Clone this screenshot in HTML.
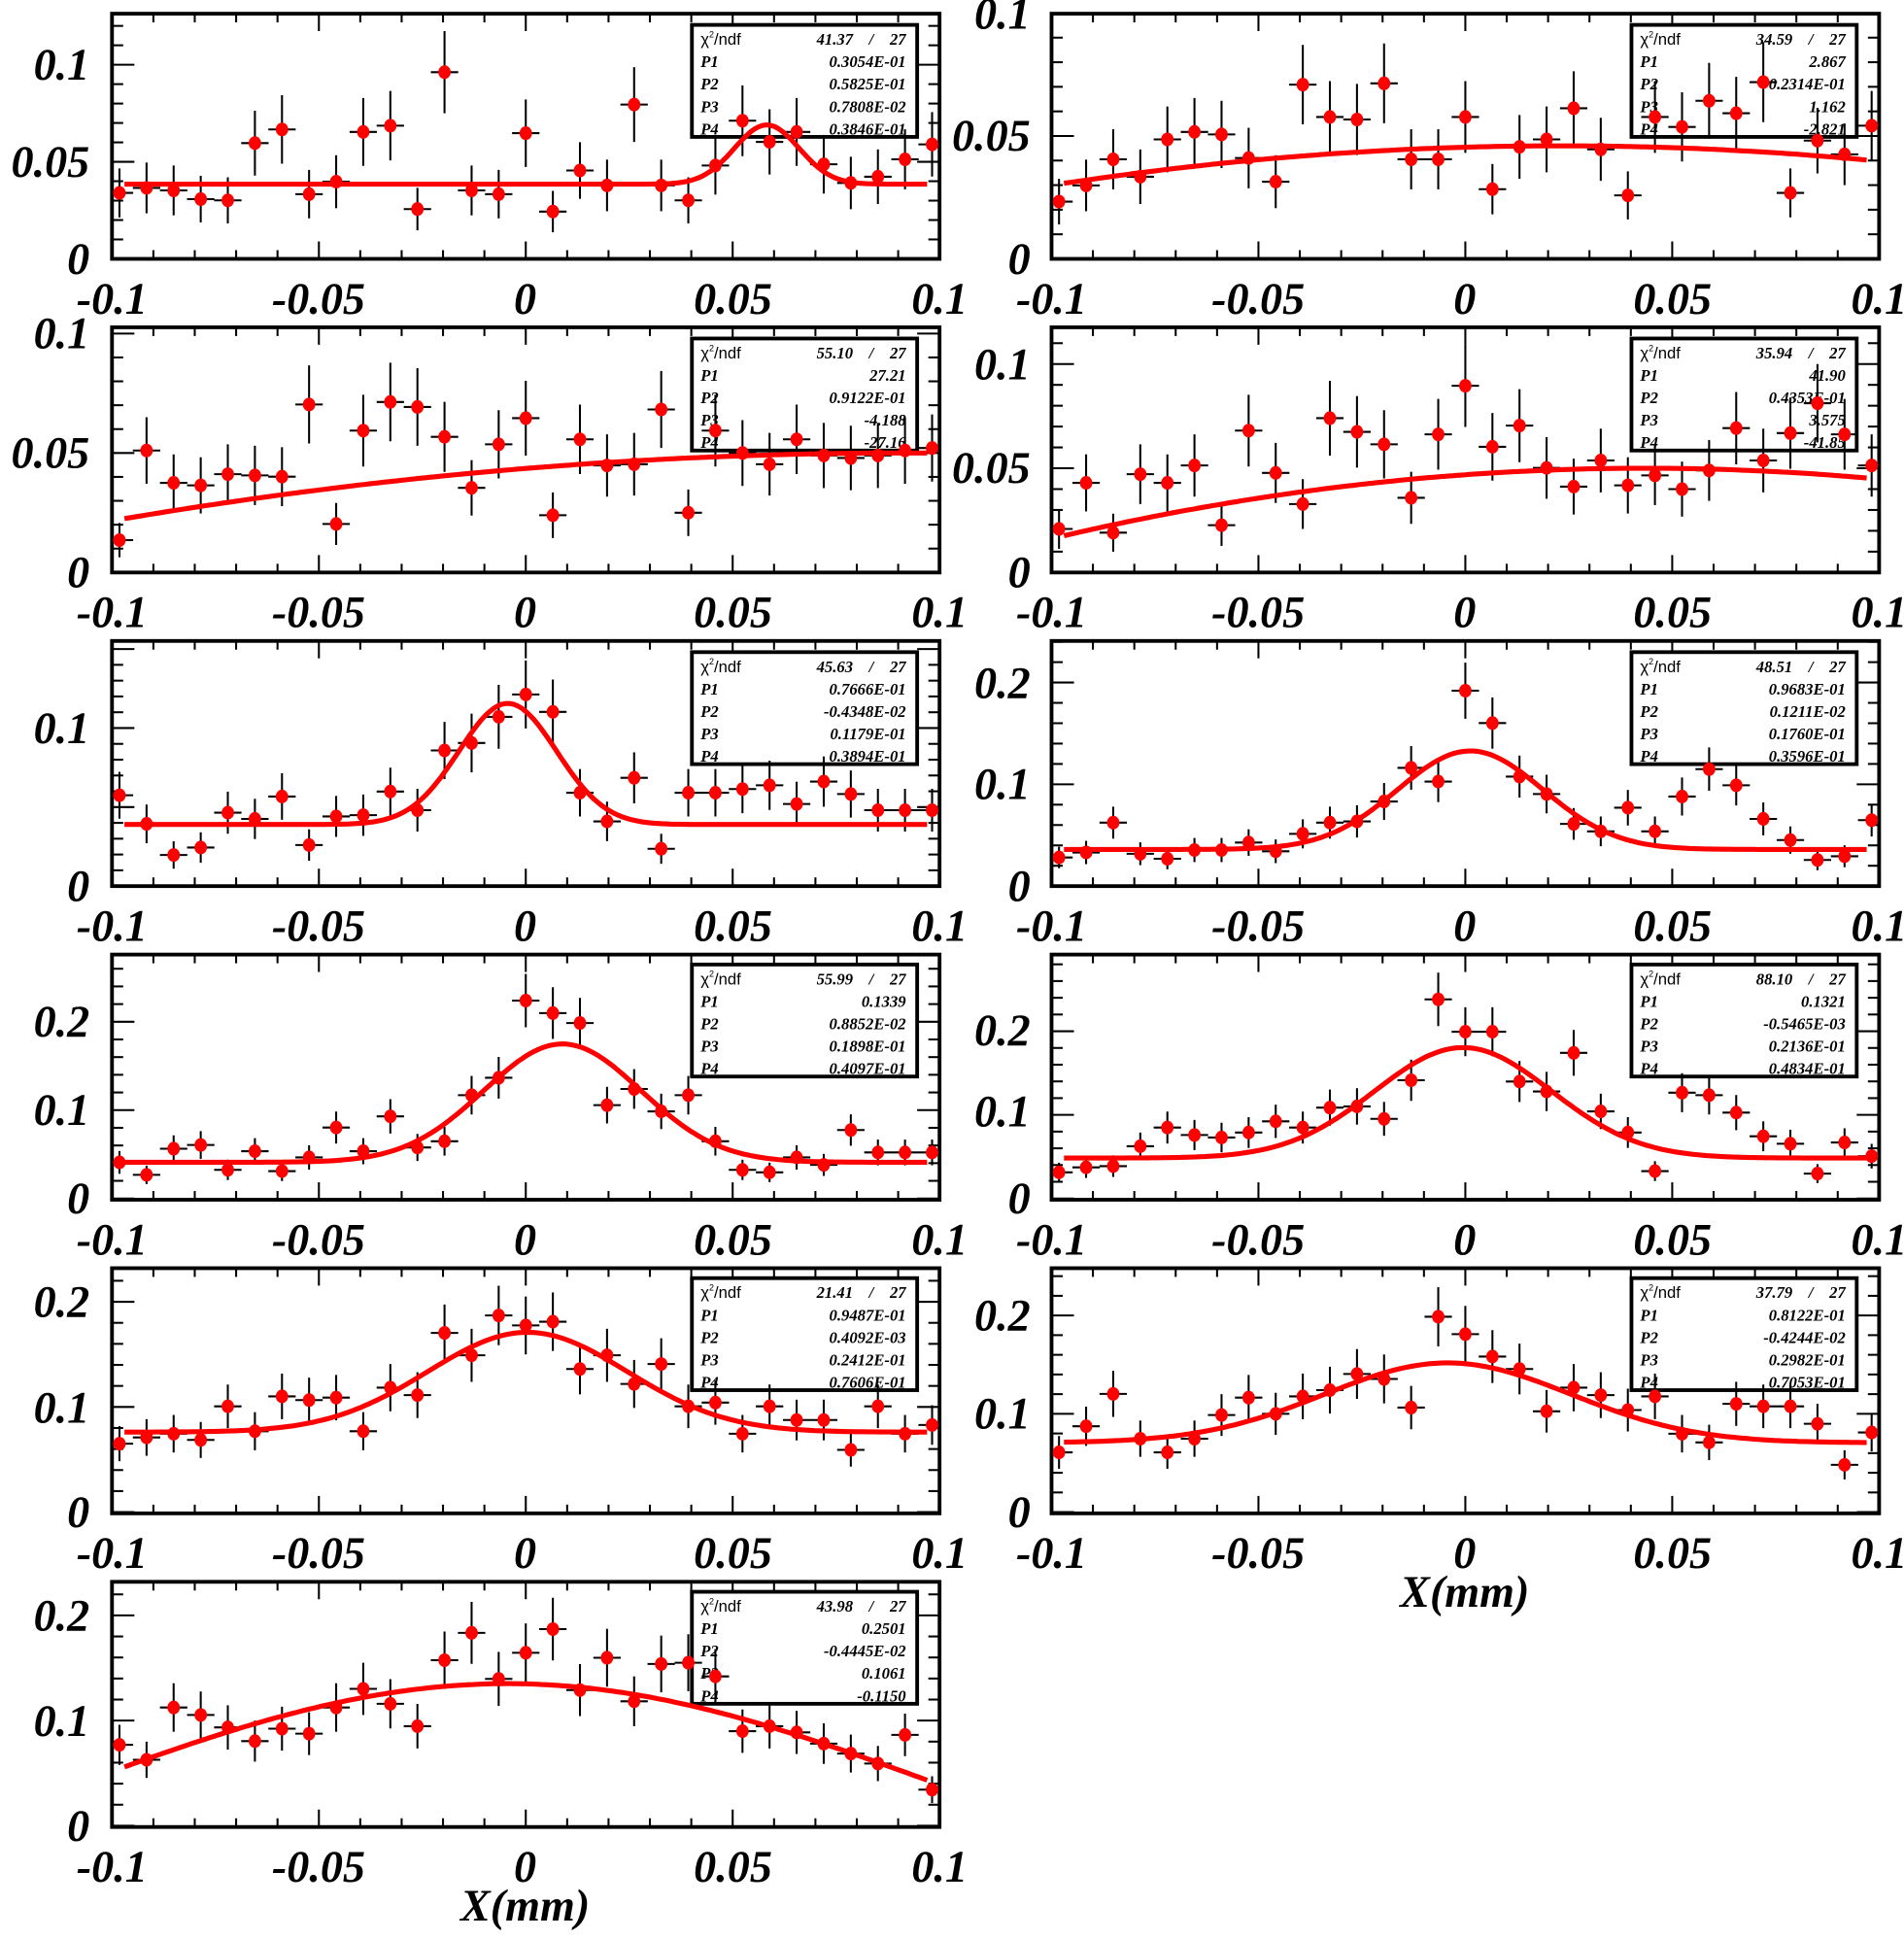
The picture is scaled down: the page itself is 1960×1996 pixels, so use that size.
<!DOCTYPE html>
<html><head><meta charset="utf-8"><style>
html,body{margin:0;padding:0;background:#fff}
svg{display:block}
.ax{font-family:"Liberation Serif",serif;font-weight:bold;font-style:italic;font-size:36px;fill:#000}
.st{font-family:"Liberation Serif",serif;font-style:italic;font-weight:bold;font-size:13px;fill:#000;white-space:pre}
.sf{font-family:"Liberation Sans",sans-serif;font-size:13px;fill:#000}
</style></head><body>
<svg id="s" width="1960" height="1996" viewBox="0 0 1530 1558" preserveAspectRatio="none" xmlns="http://www.w3.org/2000/svg" xml:space="preserve">
<g id="frames"></g>
<g id="txt">
<g class="ax" text-anchor="middle">
<text x="90" y="252">-0.1</text><text x="256" y="252">-0.05</text><text x="422" y="252">0</text><text x="589" y="252">0.05</text><text x="755" y="252">0.1</text>
<text x="845" y="252">-0.1</text><text x="1011" y="252">-0.05</text><text x="1177" y="252">0</text><text x="1344" y="252">0.05</text><text x="1510" y="252">0.1</text>
<text x="90" y="504">-0.1</text><text x="256" y="504">-0.05</text><text x="422" y="504">0</text><text x="589" y="504">0.05</text><text x="755" y="504">0.1</text>
<text x="845" y="504">-0.1</text><text x="1011" y="504">-0.05</text><text x="1177" y="504">0</text><text x="1344" y="504">0.05</text><text x="1510" y="504">0.1</text>
<text x="90" y="756">-0.1</text><text x="256" y="756">-0.05</text><text x="422" y="756">0</text><text x="589" y="756">0.05</text><text x="755" y="756">0.1</text>
<text x="845" y="756">-0.1</text><text x="1011" y="756">-0.05</text><text x="1177" y="756">0</text><text x="1344" y="756">0.05</text><text x="1510" y="756">0.1</text>
<text x="90" y="1008">-0.1</text><text x="256" y="1008">-0.05</text><text x="422" y="1008">0</text><text x="589" y="1008">0.05</text><text x="755" y="1008">0.1</text>
<text x="845" y="1008">-0.1</text><text x="1011" y="1008">-0.05</text><text x="1177" y="1008">0</text><text x="1344" y="1008">0.05</text><text x="1510" y="1008">0.1</text>
<text x="90" y="1260">-0.1</text><text x="256" y="1260">-0.05</text><text x="422" y="1260">0</text><text x="589" y="1260">0.05</text><text x="755" y="1260">0.1</text>
<text x="845" y="1260">-0.1</text><text x="1011" y="1260">-0.05</text><text x="1177" y="1260">0</text><text x="1344" y="1260">0.05</text><text x="1510" y="1260">0.1</text>
<text x="90" y="1512">-0.1</text><text x="256" y="1512">-0.05</text><text x="422" y="1512">0</text><text x="589" y="1512">0.05</text><text x="755" y="1512">0.1</text>
<text x="422" y="1543">X(mm)</text><text x="1177" y="1291">X(mm)</text>
</g>
<g class="ax" text-anchor="end">
<text x="72" y="220">0</text><text x="72" y="142">0.05</text><text x="72" y="64">0.1</text>
<text x="828" y="220">0</text><text x="828" y="121">0.05</text><text x="828" y="23">0.1</text>
<text x="72" y="472">0</text><text x="72" y="376">0.05</text><text x="72" y="280">0.1</text>
<text x="828" y="472">0</text><text x="828" y="388">0.05</text><text x="828" y="305">0.1</text>
<text x="72" y="724">0</text><text x="72" y="597">0.1</text>
<text x="828" y="724">0</text><text x="828" y="642">0.1</text><text x="828" y="561">0.2</text>
<text x="72" y="975">0</text><text x="72" y="904">0.1</text><text x="72" y="833">0.2</text>
<text x="828" y="975">0</text><text x="828" y="905">0.1</text><text x="828" y="840">0.2</text>
<text x="72" y="1227">0</text><text x="72" y="1143">0.1</text><text x="72" y="1058">0.2</text>
<text x="828" y="1227">0</text><text x="828" y="1148">0.1</text><text x="828" y="1069">0.2</text>
<text x="72" y="1479">0</text><text x="72" y="1395">0.1</text><text x="72" y="1310">0.2</text>
</g>
</g>
<g id="boxes">
<g transform="translate(556,20)"><rect x="0" y="0" width="181" height="90" fill="#fff" stroke="#000" stroke-width="3"/>
<text class="sf" x="7" y="16">χ<tspan font-size="7" dy="-6">2</tspan><tspan dy="6">/ndf</tspan></text><text class="st" x="172" y="16" text-anchor="end">41.37    /    27</text>
<text class="st" x="7" y="34">P1</text><text class="st" x="172" y="34" text-anchor="end">0.3054E-01</text>
<text class="st" x="7" y="52">P2</text><text class="st" x="172" y="52" text-anchor="end">0.5825E-01</text>
<text class="st" x="7" y="70">P3</text><text class="st" x="172" y="70" text-anchor="end">0.7808E-02</text>
<text class="st" x="7" y="88">P4</text><text class="st" x="172" y="88" text-anchor="end">0.3846E-01</text></g>
<g transform="translate(1311,20)"><rect x="0" y="0" width="181" height="90" fill="#fff" stroke="#000" stroke-width="3"/>
<text class="sf" x="7" y="16">χ<tspan font-size="7" dy="-6">2</tspan><tspan dy="6">/ndf</tspan></text><text class="st" x="172" y="16" text-anchor="end">34.59    /    27</text>
<text class="st" x="7" y="34">P1</text><text class="st" x="172" y="34" text-anchor="end">2.867</text>
<text class="st" x="7" y="52">P2</text><text class="st" x="172" y="52" text-anchor="end">0.2314E-01</text>
<text class="st" x="7" y="70">P3</text><text class="st" x="172" y="70" text-anchor="end">1.162</text>
<text class="st" x="7" y="88">P4</text><text class="st" x="172" y="88" text-anchor="end">-2.821</text></g>
<g transform="translate(556,272)"><rect x="0" y="0" width="181" height="90" fill="#fff" stroke="#000" stroke-width="3"/>
<text class="sf" x="7" y="16">χ<tspan font-size="7" dy="-6">2</tspan><tspan dy="6">/ndf</tspan></text><text class="st" x="172" y="16" text-anchor="end">55.10    /    27</text>
<text class="st" x="7" y="34">P1</text><text class="st" x="172" y="34" text-anchor="end">27.21</text>
<text class="st" x="7" y="52">P2</text><text class="st" x="172" y="52" text-anchor="end">0.9122E-01</text>
<text class="st" x="7" y="70">P3</text><text class="st" x="172" y="70" text-anchor="end">-4.188</text>
<text class="st" x="7" y="88">P4</text><text class="st" x="172" y="88" text-anchor="end">-27.16</text></g>
<g transform="translate(1311,272)"><rect x="0" y="0" width="181" height="90" fill="#fff" stroke="#000" stroke-width="3"/>
<text class="sf" x="7" y="16">χ<tspan font-size="7" dy="-6">2</tspan><tspan dy="6">/ndf</tspan></text><text class="st" x="172" y="16" text-anchor="end">35.94    /    27</text>
<text class="st" x="7" y="34">P1</text><text class="st" x="172" y="34" text-anchor="end">41.90</text>
<text class="st" x="7" y="52">P2</text><text class="st" x="172" y="52" text-anchor="end">0.4353E-01</text>
<text class="st" x="7" y="70">P3</text><text class="st" x="172" y="70" text-anchor="end">3.575</text>
<text class="st" x="7" y="88">P4</text><text class="st" x="172" y="88" text-anchor="end">-41.85</text></g>
<g transform="translate(556,524)"><rect x="0" y="0" width="181" height="90" fill="#fff" stroke="#000" stroke-width="3"/>
<text class="sf" x="7" y="16">χ<tspan font-size="7" dy="-6">2</tspan><tspan dy="6">/ndf</tspan></text><text class="st" x="172" y="16" text-anchor="end">45.63    /    27</text>
<text class="st" x="7" y="34">P1</text><text class="st" x="172" y="34" text-anchor="end">0.7666E-01</text>
<text class="st" x="7" y="52">P2</text><text class="st" x="172" y="52" text-anchor="end">-0.4348E-02</text>
<text class="st" x="7" y="70">P3</text><text class="st" x="172" y="70" text-anchor="end">0.1179E-01</text>
<text class="st" x="7" y="88">P4</text><text class="st" x="172" y="88" text-anchor="end">0.3894E-01</text></g>
<g transform="translate(1311,524)"><rect x="0" y="0" width="181" height="90" fill="#fff" stroke="#000" stroke-width="3"/>
<text class="sf" x="7" y="16">χ<tspan font-size="7" dy="-6">2</tspan><tspan dy="6">/ndf</tspan></text><text class="st" x="172" y="16" text-anchor="end">48.51    /    27</text>
<text class="st" x="7" y="34">P1</text><text class="st" x="172" y="34" text-anchor="end">0.9683E-01</text>
<text class="st" x="7" y="52">P2</text><text class="st" x="172" y="52" text-anchor="end">0.1211E-02</text>
<text class="st" x="7" y="70">P3</text><text class="st" x="172" y="70" text-anchor="end">0.1760E-01</text>
<text class="st" x="7" y="88">P4</text><text class="st" x="172" y="88" text-anchor="end">0.3596E-01</text></g>
<g transform="translate(556,775)"><rect x="0" y="0" width="181" height="90" fill="#fff" stroke="#000" stroke-width="3"/>
<text class="sf" x="7" y="16">χ<tspan font-size="7" dy="-6">2</tspan><tspan dy="6">/ndf</tspan></text><text class="st" x="172" y="16" text-anchor="end">55.99    /    27</text>
<text class="st" x="7" y="34">P1</text><text class="st" x="172" y="34" text-anchor="end">0.1339</text>
<text class="st" x="7" y="52">P2</text><text class="st" x="172" y="52" text-anchor="end">0.8852E-02</text>
<text class="st" x="7" y="70">P3</text><text class="st" x="172" y="70" text-anchor="end">0.1898E-01</text>
<text class="st" x="7" y="88">P4</text><text class="st" x="172" y="88" text-anchor="end">0.4097E-01</text></g>
<g transform="translate(1311,775)"><rect x="0" y="0" width="181" height="90" fill="#fff" stroke="#000" stroke-width="3"/>
<text class="sf" x="7" y="16">χ<tspan font-size="7" dy="-6">2</tspan><tspan dy="6">/ndf</tspan></text><text class="st" x="172" y="16" text-anchor="end">88.10    /    27</text>
<text class="st" x="7" y="34">P1</text><text class="st" x="172" y="34" text-anchor="end">0.1321</text>
<text class="st" x="7" y="52">P2</text><text class="st" x="172" y="52" text-anchor="end">-0.5465E-03</text>
<text class="st" x="7" y="70">P3</text><text class="st" x="172" y="70" text-anchor="end">0.2136E-01</text>
<text class="st" x="7" y="88">P4</text><text class="st" x="172" y="88" text-anchor="end">0.4834E-01</text></g>
<g transform="translate(556,1027)"><rect x="0" y="0" width="181" height="90" fill="#fff" stroke="#000" stroke-width="3"/>
<text class="sf" x="7" y="16">χ<tspan font-size="7" dy="-6">2</tspan><tspan dy="6">/ndf</tspan></text><text class="st" x="172" y="16" text-anchor="end">21.41    /    27</text>
<text class="st" x="7" y="34">P1</text><text class="st" x="172" y="34" text-anchor="end">0.9487E-01</text>
<text class="st" x="7" y="52">P2</text><text class="st" x="172" y="52" text-anchor="end">0.4092E-03</text>
<text class="st" x="7" y="70">P3</text><text class="st" x="172" y="70" text-anchor="end">0.2412E-01</text>
<text class="st" x="7" y="88">P4</text><text class="st" x="172" y="88" text-anchor="end">0.7606E-01</text></g>
<g transform="translate(1311,1027)"><rect x="0" y="0" width="181" height="90" fill="#fff" stroke="#000" stroke-width="3"/>
<text class="sf" x="7" y="16">χ<tspan font-size="7" dy="-6">2</tspan><tspan dy="6">/ndf</tspan></text><text class="st" x="172" y="16" text-anchor="end">37.79    /    27</text>
<text class="st" x="7" y="34">P1</text><text class="st" x="172" y="34" text-anchor="end">0.8122E-01</text>
<text class="st" x="7" y="52">P2</text><text class="st" x="172" y="52" text-anchor="end">-0.4244E-02</text>
<text class="st" x="7" y="70">P3</text><text class="st" x="172" y="70" text-anchor="end">0.2982E-01</text>
<text class="st" x="7" y="88">P4</text><text class="st" x="172" y="88" text-anchor="end">0.7053E-01</text></g>
<g transform="translate(556,1279)"><rect x="0" y="0" width="181" height="90" fill="#fff" stroke="#000" stroke-width="3"/>
<text class="sf" x="7" y="16">χ<tspan font-size="7" dy="-6">2</tspan><tspan dy="6">/ndf</tspan></text><text class="st" x="172" y="16" text-anchor="end">43.98    /    27</text>
<text class="st" x="7" y="34">P1</text><text class="st" x="172" y="34" text-anchor="end">0.2501</text>
<text class="st" x="7" y="52">P2</text><text class="st" x="172" y="52" text-anchor="end">-0.4445E-02</text>
<text class="st" x="7" y="70">P3</text><text class="st" x="172" y="70" text-anchor="end">0.1061</text>
<text class="st" x="7" y="88">P4</text><text class="st" x="172" y="88" text-anchor="end">-0.1150</text></g>
</g>
<g id="data"></g>
</svg>
<script>
(function(){
var NS="http://www.w3.org/2000/svg";
var F=document.getElementById("frames"),D=document.getElementById("data");
function el(p,t,a){var e=document.createElementNS(NS,t);for(var k in a)e.setAttribute(k,a[k]);p.appendChild(e);return e;}
var W=665,H=197,tops=[11,263,515,767,1019,1271];
var P=[
{c:0,r:0,z:208,s:1560,minor:0.01,major:0.05,p:[0.03054,0.05825,0.007808,0.03846],k:2.7,
d:[155,151,153,160,161,115,104,156,146,106,101,168,58,153,156,107,170,137,149,84,149,161,133,97,114,106,132,147,142,128,116]},
{c:1,r:0,z:208,s:1975,minor:0.01,major:0.05,p:[2.867,0.02314,1.162,-2.821],k:2.7,
d:[162,149,128,142,112,106,108,127,146,68,94,96,67,128,128,94,152,118,112,87,120,157,94,102,81,91,66,155,113,124,101]},
{c:0,r:1,z:460,s:1920,minor:0.01,major:0.05,p:[27.21,0.09122,-4.188,-27.16],k:2.7,
d:[434,362,388,390,381,382,383,325,421,346,323,327,351,392,357,336,414,353,374,373,329,412,346,364,373,353,366,368,366,362,360]},
{c:1,r:1,z:460,s:1675,minor:0.01,major:0.05,p:[41.90,0.04353,3.575,-41.85],k:2.7,
d:[425,388,428,381,388,374,422,346,380,405,336,347,357,400,349,310,359,342,376,391,370,390,382,393,378,344,370,348,324,349,374]},
{c:0,r:2,z:712,s:1270,minor:0.01,major:0.05,p:[0.07666,-0.004348,0.01179,0.03894],k:2.2,
d:[639,662,687,681,653,658,640,679,656,655,636,651,603,597,576,558,572,637,660,625,682,637,637,634,631,646,628,638,651,651,651]},
{c:1,r:2,z:712,s:818,minor:0.02,major:0.1,p:[0.09683,0.001211,0.0176,0.03596],k:1.8,
d:[689,685,661,686,690,683,683,677,684,670,661,660,644,617,628,555,581,624,638,662,668,649,668,640,618,631,658,675,691,688,659]},
{c:0,r:3,z:963,s:710,minor:0.02,major:0.1,p:[0.1339,0.008852,0.01898,0.04097],k:1.7,
d:[934,944,923,920,940,925,941,930,906,925,897,922,917,880,866,804,814,822,888,875,893,880,917,940,942,930,936,908,926,926,926]},
{c:1,r:3,z:963,s:672,minor:0.02,major:0.1,p:[0.1321,-0.0005465,0.02136,0.04834],k:1.7,
d:[942,938,937,921,906,912,914,910,901,906,890,889,899,868,803,829,829,869,877,846,893,910,941,878,880,894,913,919,943,918,929]},
{c:0,r:4,z:1215,s:845,minor:0.02,major:0.1,p:[0.09487,0.0004092,0.02412,0.07606],k:1.9,
d:[1160,1155,1152,1157,1130,1150,1122,1125,1123,1150,1115,1121,1071,1089,1057,1065,1062,1100,1089,1112,1096,1130,1127,1152,1130,1141,1141,1165,1130,1152,1145]},
{c:1,r:4,z:1215,s:790,minor:0.02,major:0.1,p:[0.08122,-0.004244,0.02982,0.07053],k:1.9,
d:[1167,1146,1120,1156,1167,1156,1137,1123,1136,1122,1117,1104,1108,1131,1058,1072,1090,1100,1134,1115,1121,1133,1122,1152,1159,1128,1130,1130,1144,1177,1151]},
{c:0,r:5,z:1467,s:845,minor:0.02,major:0.1,p:[0.2501,-0.004445,0.1061,-0.1150],k:2.0,
d:[1402,1414,1372,1378,1388,1399,1389,1393,1372,1357,1369,1387,1334,1312,1349,1328,1309,1358,1332,1367,1337,1336,1347,1391,1387,1392,1401,1409,1417,1394,1438]}
];
P.forEach(function(q){
 var L=q.c?845:90,T=tops[q.r],R=L+W,B=T+H;
 var g=el(F,"g",{stroke:"#000","stroke-width":"1.6",fill:"none"});
 for(var i=0;i<=20;i++){var x=L+i*W/20;var len=(i%5==0)?14:7;
  el(g,"line",{x1:x,y1:B,x2:x,y2:B-len});el(g,"line",{x1:x,y1:T,x2:x,y2:T+len});}
 var ymax=(q.z-T)/q.s;
 for(var v=0;v<=ymax+1e-9;v+=q.minor){var y=q.z-v*q.s;var mj=Math.abs(v/q.major-Math.round(v/q.major))<1e-6;var len=mj?18:9;
  el(g,"line",{x1:L,y1:y,x2:L+len,y2:y});el(g,"line",{x1:R,y1:y,x2:R-len,y2:y});}
 el(F,"rect",{x:L,y:T,width:W,height:H,fill:"none",stroke:"#000","stroke-width":"3"});
 var n=q.d.length,gd=el(D,"g",{});
 var gl=el(gd,"g",{stroke:"#000","stroke-width":"1.6"});
 var pts=[];
 for(var i=0;i<n;i++){
  var x=L+6+i*(W-12)/(n-1),y=q.d[i];
  var e=q.k*Math.sqrt(Math.max(q.z-y,4));
  el(gl,"line",{x1:x,y1:Math.max(T,y-e),x2:x,y2:Math.min(B,y+e)});
  el(gl,"line",{x1:Math.max(L,x-11),y1:y,x2:Math.min(R,x+11),y2:y});
  pts.push([x,y]);
 }
 var s="",p=q.p;
 for(var j=0;j<=200;j++){var xv=-0.097+j*0.194/200;var f=p[0]*Math.exp(-0.5*Math.pow((xv-p[1])/p[2],2))+p[3];
  var X=L+(xv+0.1)/0.2*W,Y=q.z-f*q.s;s+=(j?"L":"M")+X.toFixed(1)+" "+Y.toFixed(1);}
 el(gd,"path",{d:s,fill:"none",stroke:"#ff0000","stroke-width":"4"});
 pts.forEach(function(a){el(gd,"ellipse",{cx:a[0],cy:a[1],rx:5,ry:5.5,fill:"#ff0000"});});
});
})();
</script>
</body></html>
